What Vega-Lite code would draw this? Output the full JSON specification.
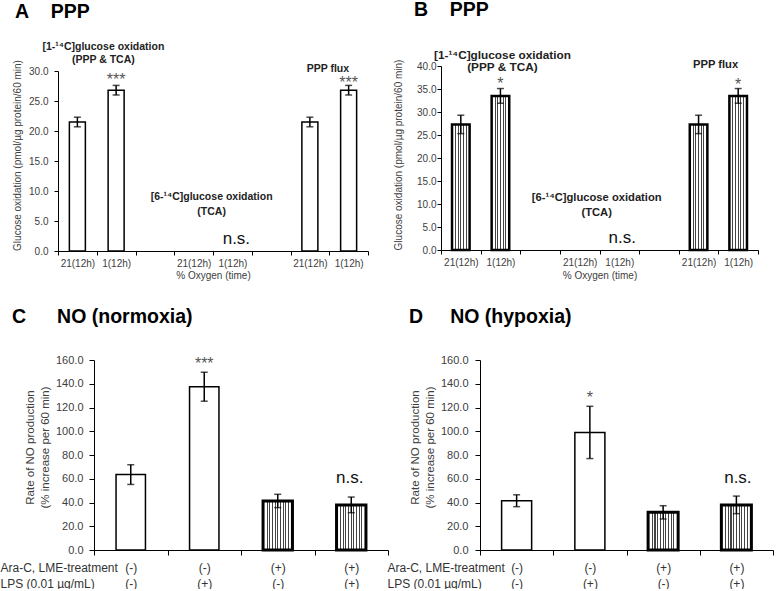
{
  "$schema": "https://vega.github.io/schema/vega-lite/v6.json",
  "padding": {"left": 0, "top": 0, "right": 0, "bottom": 0},
  "bounds": "flush",
  "columns": 2,
  "spacing": {"row": 109, "column": 53},
  "config": {
    "view": {"stroke": null},
    "font": "Liberation Sans",
    "axis": {"domainColor": "#000", "tickColor": "#000", "labelColor": "#404040", "titleColor": "#404040", "labelFont": "Liberation Sans", "titleFont": "Liberation Sans", "titleFontWeight": "normal", "grid": false, "domainWidth": 1, "tickWidth": 1},
    "title": {"font": "Liberation Sans", "fontSize": 19.5, "fontWeight": "bold", "color": "#000", "anchor": "start", "frame": "group"}
  },
  "datasets": {
    "pppA": [
      {"cat": "1-14C|21(12h)", "v": 21.5, "err": 0.8},
      {"cat": "1-14C|1(12h)", "v": 26.8, "err": 0.8},
      {"cat": "6-14C|21(12h)", "v": 0, "err": 0},
      {"cat": "6-14C|1(12h)", "v": 0, "err": 0},
      {"cat": "flux|21(12h)", "v": 21.5, "err": 0.8},
      {"cat": "flux|1(12h)", "v": 26.8, "err": 0.8}
    ],
    "pppB": [
      {"cat": "1-14C|21(12h)", "v": 27.3, "err": 2.0},
      {"cat": "1-14C|1(12h)", "v": 33.5, "err": 1.6},
      {"cat": "6-14C|21(12h)", "v": 0, "err": 0},
      {"cat": "6-14C|1(12h)", "v": 0, "err": 0},
      {"cat": "flux|21(12h)", "v": 27.3, "err": 2.0},
      {"cat": "flux|1(12h)", "v": 33.5, "err": 1.6}
    ],
    "annA": [
      {"kind": "sig", "cat": "1-14C|1(12h)", "v": 27.7, "t": "***"},
      {"kind": "sig", "cat": "flux|1(12h)", "v": 27.1, "t": "***"},
      {"kind": "head1", "cat": "1-14C|21(12h)", "v": 33.5, "t": ["[1-¹⁴C]glucose oxidation", "(PPP & TCA)"]},
      {"kind": "head2", "cat": "6-14C|21(12h)", "v": 8.43, "t": ["[6-¹⁴C]glucose oxidation", "(TCA)"]},
      {"kind": "head2", "cat": "flux|21(12h)", "v": 29.83, "t": "PPP flux"},
      {"kind": "ns", "cat": "6-14C|1(12h)", "v": 1.2, "t": "n.s."}
    ],
    "annB": [
      {"kind": "sig", "cat": "1-14C|1(12h)", "v": 34.9, "t": "*"},
      {"kind": "sig", "cat": "flux|1(12h)", "v": 34.7, "t": "*"},
      {"kind": "head1", "cat": "1-14C|1(12h)", "v": 41.6, "t": ["[1-¹⁴C]glucose oxidation", "(PPP & TCA)"]},
      {"kind": "head2", "cat": "6-14C|21(12h)", "v": 10.76, "t": ["[6-¹⁴C]glucose oxidation", "(TCA)"]},
      {"kind": "head2", "cat": "flux|21(12h)", "v": 39.6, "t": "PPP flux"},
      {"kind": "ns", "cat": "6-14C|1(12h)", "v": 1.46, "t": "n.s."}
    ],
    "noC": [
      {"cat": "-/-", "araC": "-", "v": 63.5, "err": 8.3},
      {"cat": "-/+", "araC": "-", "v": 137.5, "err": 12.2},
      {"cat": "+/-", "araC": "+", "v": 41.3, "err": 5.6},
      {"cat": "+/+", "araC": "+", "v": 38.0, "err": 6.6}
    ],
    "noD": [
      {"cat": "-/-", "araC": "-", "v": 41.5, "err": 5.0},
      {"cat": "-/+", "araC": "-", "v": 99.0, "err": 22.0},
      {"cat": "+/-", "araC": "+", "v": 31.7, "err": 5.6},
      {"cat": "+/+", "araC": "+", "v": 38.0, "err": 7.4}
    ],
    "annC": [
      {"kind": "sig", "cat": "-/+", "v": 152.3, "t": "***"},
      {"kind": "ns", "cat": "+/+", "v": 56.4, "t": "n.s."}
    ],
    "annD": [
      {"kind": "sig", "cat": "-/+", "v": 123.8, "t": "*"},
      {"kind": "ns", "cat": "+/+", "v": 56.4, "t": "n.s."}
    ]
  },
  "concat": [
    {
      "width": 310,
      "height": 185,
      "title": {"text": "A\u00a0\u00a0\u00a0\u00a0PPP", "dx": -43, "offset": 20},
      "encoding": {
        "x": {"field": "cat", "type": "nominal",
          "scale": {"domain": ["1-14C|21(12h)", "1-14C|1(12h)", "gap1", "6-14C|21(12h)", "6-14C|1(12h)", "gap2", "flux|21(12h)", "flux|1(12h)"], "paddingInner": 0, "paddingOuter": 0},
          "axis": {"title": "% Oxygen (time)", "labelExpr": "datum.value ? replace(datum.value, /^[^|]*\\|?/, '') : ''", "labelAngle": 0, "labelFontSize": 10, "tickBand": "extent", "tickSize": 4, "labelPadding": 3, "labelBaseline": "top", "titleFontSize": 10, "titleY": 19, "titleBaseline": "top"}},
        "y": {"field": "v", "type": "quantitative",
          "scale": {"domain": [0, 30], "range": [185, 5], "nice": false},
          "axis": {"values": [0, 5, 10, 15, 20, 25, 30], "format": ".1f", "title": "Glucose oxidation (pmol/µg protein/60 min)", "titleFontSize": 10, "titleX": -38, "titleY": 89, "titleBaseline": "alphabetic", "titleAngle": -90, "titleAlign": "center", "labelFontSize": 10, "tickSize": 4, "labelPadding": 6}}
      },
      "layer": [
        {"data": {"name": "pppA"}, "transform": [{"filter": "datum.v > 0"}], "mark": {"type": "bar", "width": {"band": 0.413}, "fill": "white", "stroke": "black", "strokeWidth": 1.5}},
        {"data": {"name": "pppA"}, "transform": [{"filter": "datum.err > 0"}], "mark": {"type": "errorbar", "ticks": {"size": 7}, "thickness": 1.5, "color": "black"}, "encoding": {"yError": {"field": "err"}}},
        {"data": {"name": "annA"}, "transform": [{"filter": "datum.kind == 'sig'"}], "mark": {"type": "text", "fontSize": 16, "color": "#555", "baseline": "alphabetic"}, "encoding": {"text": {"field": "t"}}},
        {"data": {"name": "annA"}, "transform": [{"filter": "datum.kind == 'head1'"}], "mark": {"type": "text", "fontSize": 10.5, "fontWeight": "bold", "color": "#222", "baseline": "alphabetic", "lineHeight": 13, "dx": 26}, "encoding": {"text": {"field": "t"}}},
        {"data": {"name": "annA"}, "transform": [{"filter": "datum.kind == 'head2'"}], "mark": {"type": "text", "fontSize": 10.5, "fontWeight": "bold", "color": "#222", "baseline": "alphabetic", "lineHeight": 15, "dx": 18}, "encoding": {"text": {"field": "t"}}},
        {"data": {"name": "annA"}, "transform": [{"filter": "datum.kind == 'ns'"}], "mark": {"type": "text", "fontSize": 17, "color": "#111", "baseline": "alphabetic", "dx": 4}, "encoding": {"text": {"field": "t"}}}
      ]
    },
    {
      "width": 317,
      "height": 184,
      "title": {"text": "B\u00a0\u00a0\u00a0\u00a0PPP", "dx": -27, "offset": 29},
      "encoding": {
        "x": {"field": "cat", "type": "nominal",
          "scale": {"domain": ["1-14C|21(12h)", "1-14C|1(12h)", "gap1", "6-14C|21(12h)", "6-14C|1(12h)", "gap2", "flux|21(12h)", "flux|1(12h)"], "paddingInner": 0, "paddingOuter": 0},
          "axis": {"title": "% Oxygen (time)", "labelExpr": "datum.value ? replace(datum.value, /^[^|]*\\|?/, '') : ''", "labelAngle": 0, "labelFontSize": 10, "tickBand": "extent", "tickSize": 4, "labelPadding": 3, "labelBaseline": "top", "titleFontSize": 10, "titleY": 20.5, "titleBaseline": "top"}},
        "y": {"field": "v", "type": "quantitative",
          "scale": {"domain": [0, 40], "nice": false},
          "axis": {"values": [0, 5, 10, 15, 20, 25, 30, 35, 40], "format": ".1f", "title": "Glucose oxidation (pmol/µg protein/60 min)", "titleFontSize": 10, "titleX": -40, "titleY": 88.5, "titleBaseline": "alphabetic", "titleAngle": -90, "titleAlign": "center", "labelFontSize": 10, "tickSize": 4, "labelPadding": 1}}
      },
      "layer": [
        {"data": {"name": "pppB"}, "transform": [{"filter": "datum.v > 0"}], "mark": {"type": "bar", "width": {"band": 0.444}, "stroke": "black", "strokeWidth": 2.5,
          "fill": {"gradient": "linear", "x1": 0, "y1": 0, "x2": 1, "y2": 0, "stops": [
            {"offset": 0, "color": "#fff"}, {"offset": 0.17, "color": "#fff"}, {"offset": 0.17, "color": "#444"}, {"offset": 0.23, "color": "#444"}, {"offset": 0.23, "color": "#fff"},
            {"offset": 0.32, "color": "#fff"}, {"offset": 0.32, "color": "#444"}, {"offset": 0.38, "color": "#444"}, {"offset": 0.38, "color": "#fff"},
            {"offset": 0.47, "color": "#fff"}, {"offset": 0.47, "color": "#444"}, {"offset": 0.53, "color": "#444"}, {"offset": 0.53, "color": "#fff"},
            {"offset": 0.62, "color": "#fff"}, {"offset": 0.62, "color": "#444"}, {"offset": 0.68, "color": "#444"}, {"offset": 0.68, "color": "#fff"},
            {"offset": 0.77, "color": "#fff"}, {"offset": 0.77, "color": "#444"}, {"offset": 0.83, "color": "#444"}, {"offset": 0.83, "color": "#fff"}, {"offset": 1, "color": "#fff"}]}}},
        {"data": {"name": "pppB"}, "transform": [{"filter": "datum.err > 0"}], "mark": {"type": "errorbar", "ticks": {"size": 7}, "thickness": 1.5, "color": "black"}, "encoding": {"yError": {"field": "err"}}},
        {"data": {"name": "annB"}, "transform": [{"filter": "datum.kind == 'sig'"}], "mark": {"type": "text", "fontSize": 16, "color": "#555", "baseline": "alphabetic"}, "encoding": {"text": {"field": "t"}}},
        {"data": {"name": "annB"}, "transform": [{"filter": "datum.kind == 'head1'"}], "mark": {"type": "text", "fontSize": 11.8, "fontWeight": "bold", "color": "#222", "baseline": "alphabetic", "lineHeight": 12.5, "dx": 2}, "encoding": {"text": {"field": "t"}}},
        {"data": {"name": "annB"}, "transform": [{"filter": "datum.kind == 'head2'"}], "mark": {"type": "text", "fontSize": 11.2, "fontWeight": "bold", "color": "#222", "baseline": "alphabetic", "lineHeight": 15, "dx": 17}, "encoding": {"text": {"field": "t"}}},
        {"data": {"name": "annB"}, "transform": [{"filter": "datum.kind == 'ns'"}], "mark": {"type": "text", "fontSize": 17, "color": "#111", "baseline": "alphabetic", "dx": 3}, "encoding": {"text": {"field": "t"}}}
      ]
    },
    {
      "width": 330,
      "height": 190,
      "title": {"text": "C\u00a0\u00a0\u00a0\u00a0\u00a0\u2009NO (normoxia)", "dx": -46, "offset": 27},
      "encoding": {
        "x": {"field": "cat", "type": "nominal",
          "scale": {"domain": ["-/-", "-/+", "+/-", "+/+"], "range": [36, 330], "paddingInner": 0, "paddingOuter": 0},
          "axis": {"title": ["Ara-C, LME-treatment", "LPS (0.01 µg/mL)"], "labelExpr": "datum.value ? ['(' + substring(datum.value, 0, 1) + ')', '(' + substring(datum.value, 2, 3) + ')'] : ''", "labelAngle": 0, "labelFontSize": 12, "labelColor": "#333", "labelLineHeight": 16, "labelBaseline": "top", "tickBand": "extent", "tickSize": 5, "labelPadding": 7, "titleFontSize": 12, "titleColor": "#333", "titleLineHeight": 16, "titleX": -58, "titleY": 12, "titleAlign": "left", "titleBaseline": "top"}},
        "y": {"field": "v", "type": "quantitative",
          "scale": {"domain": [0, 160], "nice": false},
          "axis": {"offset": -36, "values": [0, 20, 40, 60, 80, 100, 120, 140, 160], "format": ".1f", "title": ["Rate of NO production", "(% increase per 60 min)"], "titleFontSize": 11.5, "titleLineHeight": 15, "titleX": -61, "titleY": 87, "titleBaseline": "alphabetic", "titleAngle": -90, "titleAlign": "center", "labelFontSize": 11, "tickSize": 5, "labelPadding": 6}}
      },
      "layer": [
        {"data": {"name": "noC"}, "transform": [{"filter": "datum.araC == '-'"}], "mark": {"type": "bar", "width": {"band": 0.4}, "fill": "white", "stroke": "black", "strokeWidth": 1.5}},
        {"data": {"name": "noC"}, "transform": [{"filter": "datum.araC == '+'"}], "mark": {"type": "bar", "width": {"band": 0.4}, "stroke": "black", "strokeWidth": 3,
          "fill": {"gradient": "linear", "x1": 0, "y1": 0, "x2": 1, "y2": 0, "stops": [
            {"offset": 0, "color": "#fff"}, {"offset": 0.122, "color": "#fff"}, {"offset": 0.122, "color": "#444"}, {"offset": 0.158, "color": "#444"}, {"offset": 0.158, "color": "#fff"},
            {"offset": 0.212, "color": "#fff"}, {"offset": 0.212, "color": "#444"}, {"offset": 0.248, "color": "#444"}, {"offset": 0.248, "color": "#fff"},
            {"offset": 0.302, "color": "#fff"}, {"offset": 0.302, "color": "#444"}, {"offset": 0.338, "color": "#444"}, {"offset": 0.338, "color": "#fff"},
            {"offset": 0.392, "color": "#fff"}, {"offset": 0.392, "color": "#444"}, {"offset": 0.428, "color": "#444"}, {"offset": 0.428, "color": "#fff"},
            {"offset": 0.482, "color": "#fff"}, {"offset": 0.482, "color": "#444"}, {"offset": 0.518, "color": "#444"}, {"offset": 0.518, "color": "#fff"},
            {"offset": 0.572, "color": "#fff"}, {"offset": 0.572, "color": "#444"}, {"offset": 0.608, "color": "#444"}, {"offset": 0.608, "color": "#fff"},
            {"offset": 0.662, "color": "#fff"}, {"offset": 0.662, "color": "#444"}, {"offset": 0.698, "color": "#444"}, {"offset": 0.698, "color": "#fff"},
            {"offset": 0.752, "color": "#fff"}, {"offset": 0.752, "color": "#444"}, {"offset": 0.788, "color": "#444"}, {"offset": 0.788, "color": "#fff"},
            {"offset": 0.842, "color": "#fff"}, {"offset": 0.842, "color": "#444"}, {"offset": 0.878, "color": "#444"}, {"offset": 0.878, "color": "#fff"}, {"offset": 1, "color": "#fff"}]}}},
        {"data": {"name": "noC"}, "mark": {"type": "errorbar", "ticks": {"size": 7}, "thickness": 1.5, "color": "black"}, "encoding": {"yError": {"field": "err"}}},
        {"data": {"name": "annC"}, "transform": [{"filter": "datum.kind == 'sig'"}], "mark": {"type": "text", "fontSize": 16, "color": "#555", "baseline": "alphabetic"}, "encoding": {"text": {"field": "t"}}},
        {"data": {"name": "annC"}, "transform": [{"filter": "datum.kind == 'ns'"}], "mark": {"type": "text", "fontSize": 17, "color": "#111", "baseline": "alphabetic", "dx": -1.5}, "encoding": {"text": {"field": "t"}}}
      ]
    },
    {
      "width": 332,
      "height": 190,
      "title": {"text": "D\u00a0\u00a0\u00a0\u00a0\u00a0NO (hypoxia)", "dx": -32, "offset": 27},
      "encoding": {
        "x": {"field": "cat", "type": "nominal",
          "scale": {"domain": ["-/-", "-/+", "+/-", "+/+"], "range": [39, 332], "paddingInner": 0, "paddingOuter": 0},
          "axis": {"title": ["Ara-C, LME-treatment", "LPS (0.01 µg/mL)"], "labelExpr": "datum.value ? ['(' + substring(datum.value, 0, 1) + ')', '(' + substring(datum.value, 2, 3) + ')'] : ''", "labelAngle": 0, "labelFontSize": 12, "labelColor": "#333", "labelLineHeight": 16, "labelBaseline": "top", "tickBand": "extent", "tickSize": 5, "labelPadding": 7, "titleFontSize": 12, "titleColor": "#333", "titleLineHeight": 16, "titleX": -54, "titleY": 12, "titleAlign": "left", "titleBaseline": "top"}},
        "y": {"field": "v", "type": "quantitative",
          "scale": {"domain": [0, 160], "nice": false},
          "axis": {"offset": -39, "values": [0, 20, 40, 60, 80, 100, 120, 140, 160], "format": ".1f", "title": ["Rate of NO production", "(% increase per 60 min)"], "titleFontSize": 11.5, "titleLineHeight": 15, "titleX": -62, "titleY": 87, "titleBaseline": "alphabetic", "titleAngle": -90, "titleAlign": "center", "labelFontSize": 11, "tickSize": 5, "labelPadding": 7}}
      },
      "layer": [
        {"data": {"name": "noD"}, "transform": [{"filter": "datum.araC == '-'"}], "mark": {"type": "bar", "width": {"band": 0.41}, "fill": "white", "stroke": "black", "strokeWidth": 1.5}},
        {"data": {"name": "noD"}, "transform": [{"filter": "datum.araC == '+'"}], "mark": {"type": "bar", "width": {"band": 0.41}, "stroke": "black", "strokeWidth": 3,
          "fill": {"gradient": "linear", "x1": 0, "y1": 0, "x2": 1, "y2": 0, "stops": [
            {"offset": 0, "color": "#fff"}, {"offset": 0.122, "color": "#fff"}, {"offset": 0.122, "color": "#444"}, {"offset": 0.158, "color": "#444"}, {"offset": 0.158, "color": "#fff"},
            {"offset": 0.212, "color": "#fff"}, {"offset": 0.212, "color": "#444"}, {"offset": 0.248, "color": "#444"}, {"offset": 0.248, "color": "#fff"},
            {"offset": 0.302, "color": "#fff"}, {"offset": 0.302, "color": "#444"}, {"offset": 0.338, "color": "#444"}, {"offset": 0.338, "color": "#fff"},
            {"offset": 0.392, "color": "#fff"}, {"offset": 0.392, "color": "#444"}, {"offset": 0.428, "color": "#444"}, {"offset": 0.428, "color": "#fff"},
            {"offset": 0.482, "color": "#fff"}, {"offset": 0.482, "color": "#444"}, {"offset": 0.518, "color": "#444"}, {"offset": 0.518, "color": "#fff"},
            {"offset": 0.572, "color": "#fff"}, {"offset": 0.572, "color": "#444"}, {"offset": 0.608, "color": "#444"}, {"offset": 0.608, "color": "#fff"},
            {"offset": 0.662, "color": "#fff"}, {"offset": 0.662, "color": "#444"}, {"offset": 0.698, "color": "#444"}, {"offset": 0.698, "color": "#fff"},
            {"offset": 0.752, "color": "#fff"}, {"offset": 0.752, "color": "#444"}, {"offset": 0.788, "color": "#444"}, {"offset": 0.788, "color": "#fff"},
            {"offset": 0.842, "color": "#fff"}, {"offset": 0.842, "color": "#444"}, {"offset": 0.878, "color": "#444"}, {"offset": 0.878, "color": "#fff"}, {"offset": 1, "color": "#fff"}]}}},
        {"data": {"name": "noD"}, "mark": {"type": "errorbar", "ticks": {"size": 7}, "thickness": 1.5, "color": "black"}, "encoding": {"yError": {"field": "err"}}},
        {"data": {"name": "annD"}, "transform": [{"filter": "datum.kind == 'sig'"}], "mark": {"type": "text", "fontSize": 16, "color": "#555", "baseline": "alphabetic"}, "encoding": {"text": {"field": "t"}}},
        {"data": {"name": "annD"}, "transform": [{"filter": "datum.kind == 'ns'"}], "mark": {"type": "text", "fontSize": 17, "color": "#111", "baseline": "alphabetic", "dx": 1.5}, "encoding": {"text": {"field": "t"}}}
      ]
    }
  ]
}
